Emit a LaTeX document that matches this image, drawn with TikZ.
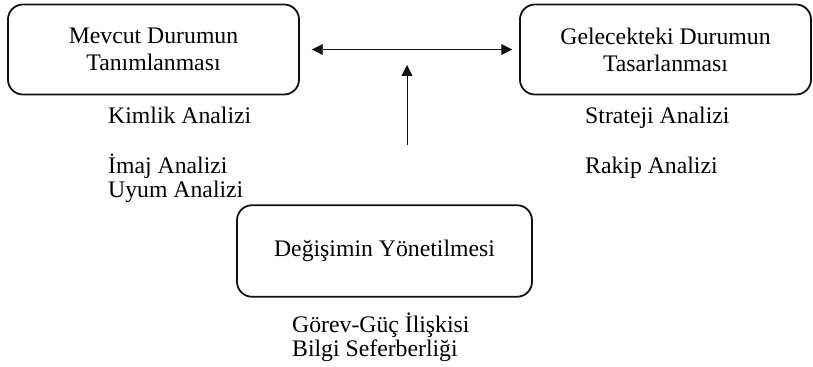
\documentclass[tikz,border=0pt]{standalone}
\usepackage{fontspec}
\setmainfont{Liberation Serif}
\usetikzlibrary{arrows.meta, positioning}
\definecolor{lineDark}{HTML}{111111}
\tikzset{
  boxA/.style={rectangle, rounded corners=0.5cm, draw=lineDark, line width=1.7pt,
               align=center, inner sep=2pt, minimum width=9.7cm, minimum height=3cm},
  arrowB/.style={{Triangle[length=0.36cm, width=0.36cm]}-{Triangle[length=0.36cm, width=0.36cm]},
                 lineDark, line width=0.9pt},
  arrowU/.style={-{Triangle[length=0.36cm, width=0.36cm]}, lineDark, line width=0.9pt},
  txtA/.style={anchor=base west, inner sep=0pt},
}

\begin{document}
\begin{tikzpicture}[x=0.03333cm, y=-0.03333cm, font=\fontsize{22.5}{25.5}\selectfont]
    \useasboundingbox (0,0) rectangle (813,366);
    %% Kutular
    \node[boxA] (mev) at (153.5, 49.5) {Mevcut Durumun\\Tanımlanması};
    \node[boxA] (gel) at (665.5, 49.5) {Gelecekteki Durumun\\Tasarlanması};
    \node[boxA, minimum width=9.83cm, minimum height=3.05cm] (deg) at (384.5, 251) {Değişimin Yönetilmesi};

    %% Analizler
    \node[txtA] (kim) at (108, 123) {Kimlik Analizi};
    \node[txtA] (ima) at (108, 173) {İmaj Analizi};
    \node[txtA] (uyu) at (108, 197) {Uyum Analizi};
    \node[txtA] (str) at (585, 123) {Strateji Analizi};
    \node[txtA] (rak) at (585, 173) {Rakip Analizi};
    \node[txtA] (gor) at (292, 332) {Görev-Güç İlişkisi};
    \node[txtA] (bil) at (292, 356) {Bilgi Seferberliği};

    %% Oklar
    \draw[arrowB, shorten <=0.4cm, shorten >=0.23cm] (mev.east) -- (gel.west);
    \coordinate (vb) at (407, 145);
    \coordinate (vt) at (407, 65);
    \draw[arrowU] (vb) -- (vt);
\end{tikzpicture}
\end{document}
